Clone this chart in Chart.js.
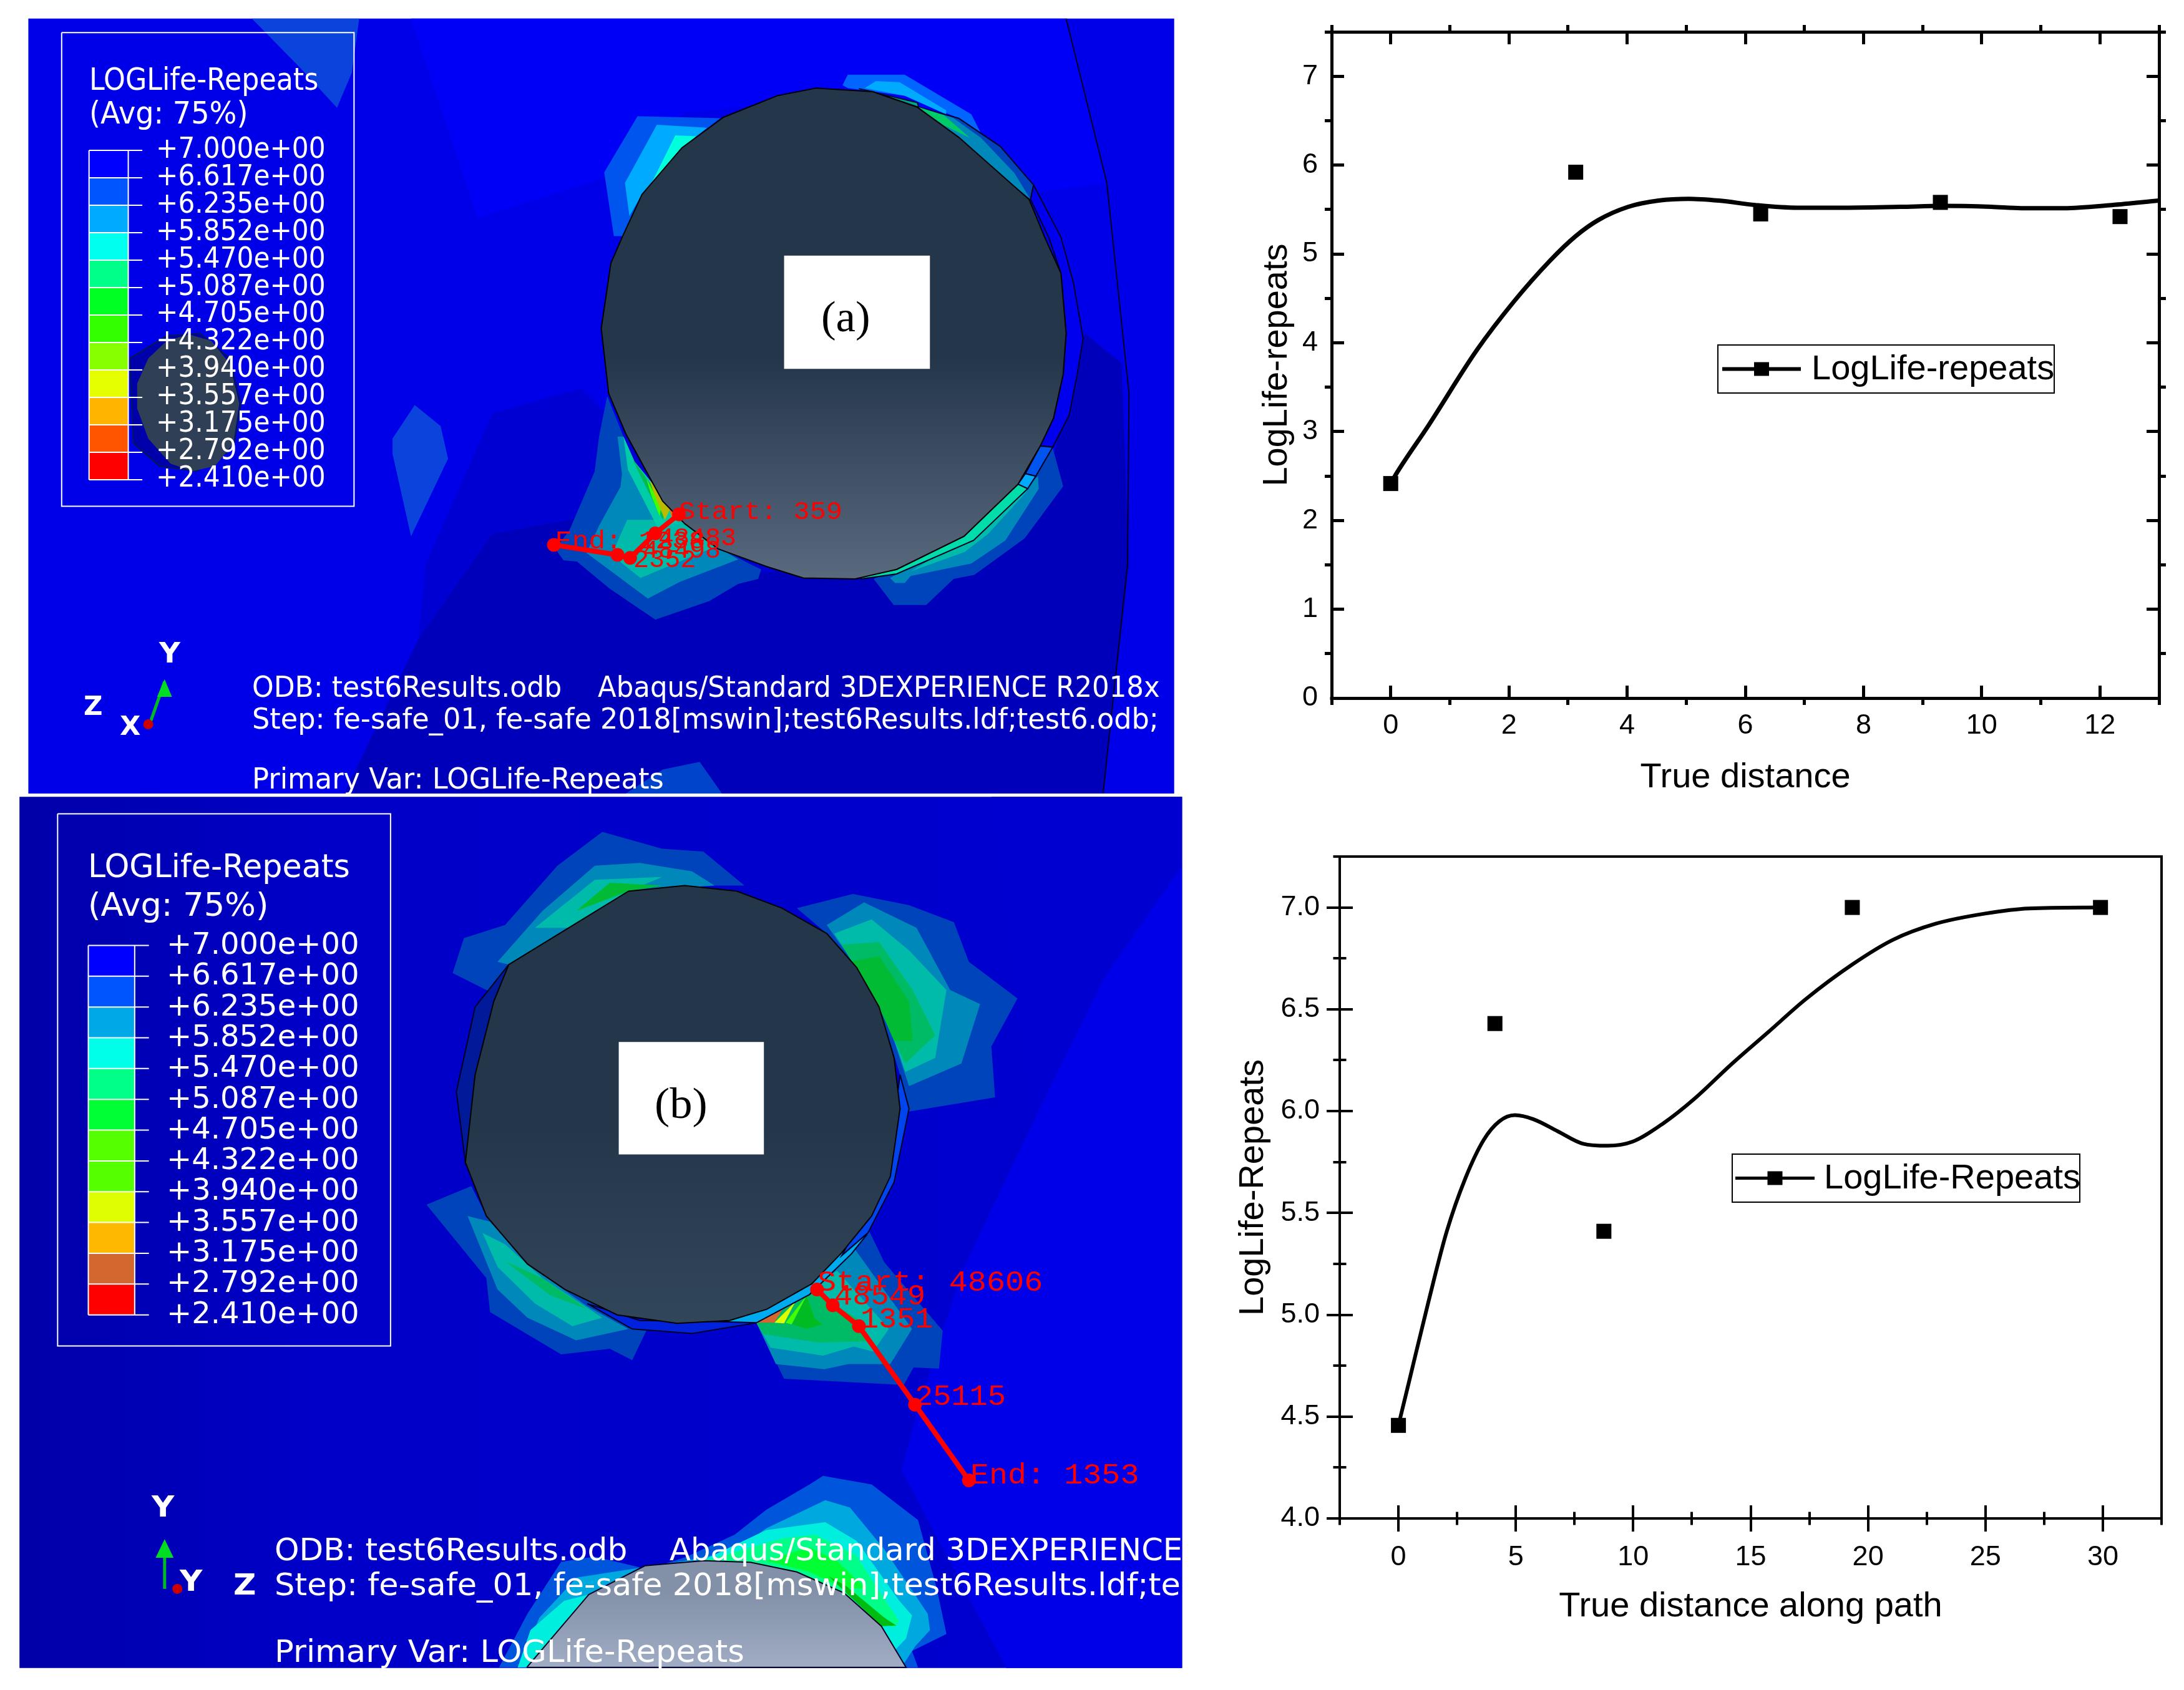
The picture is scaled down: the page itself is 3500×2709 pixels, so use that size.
<!DOCTYPE html>
<html>
<head>
<meta charset="utf-8">
<title>LOGLife-Repeats</title>
<script src="https://cdn.jsdelivr.net/npm/chart.js@4/dist/chart.umd.min.js"></script>
<style>
html, body { margin: 0; padding: 0; background: #fff; }
#page { position: relative; width: 3500px; height: 2709px; overflow: hidden; background: #fff; }
#page canvas { position: absolute; }
.txt { position: absolute; white-space: nowrap; transform-origin: left center; line-height: 1; }
.clip { position: absolute; overflow: hidden; }
</style>
</head>
<body>
<div id="page"></div>
<script>
// line plots
const pathPointsAx = [0, 3.13, 6.26, 9.3, 12.34];
const pathPointsAy = [2.415, 5.92, 5.45, 5.58, 5.42];
const curveAx = [0, 0.08, 0.64, 1.46, 2.08, 2.69, 3.13, 3.51, 4.02, 4.53, 5.04, 5.55, 6.17, 6.88, 7.6, 8.62, 9.34, 10.16, 10.67, 11.39, 12.2, 12.99];
const curveAy = [2.415, 2.51, 3.07, 3.92, 4.46, 4.92, 5.2, 5.38, 5.53, 5.6, 5.62, 5.60, 5.55, 5.52, 5.52, 5.53, 5.54, 5.53, 5.515, 5.515, 5.55, 5.60];

const pathPointsBx = [0, 4.11, 8.75, 19.33, 29.9];
const pathPointsBy = [4.457, 6.43, 5.41, 7.0, 7.0];
const curveBx = [0, 0.47, 1.27, 2.06, 2.85, 3.64, 4.3, 4.96, 5.75, 6.8, 7.86, 8.91, 9.97, 11.28, 12.6, 14.18, 15.77, 17.35, 19.33, 21.04, 22.88, 24.99, 26.84, 29.9];
const curveBy = [4.457, 4.68, 5.06, 5.41, 5.67, 5.86, 5.95, 5.98, 5.96, 5.90, 5.84, 5.83, 5.85, 5.94, 6.06, 6.23, 6.39, 6.55, 6.72, 6.84, 6.92, 6.97, 6.995, 7.0];

// contour legend
const contourLevels = ['+7.000e+00', '+6.617e+00', '+6.235e+00', '+5.852e+00', '+5.470e+00', '+5.087e+00', '+4.705e+00', '+4.322e+00', '+3.940e+00', '+3.557e+00', '+3.175e+00', '+2.792e+00', '+2.410e+00'];
const bandColorsA = ['#0000ff', '#0055ff', '#00aaff', '#00ffee', '#00ff88', '#00ff22', '#33ff00', '#88ff00', '#e5ff00', '#ffb400', '#ff5500', '#ff0000'];
const bandColorsB = ['#0000ff', '#0055ff', '#00a8e8', '#00ffe8', '#00ff88', '#00ff33', '#55ff00', '#55ff00', '#ddff00', '#ffb800', '#d2682f', '#ff0000'];

// fe-safe path node ids
const pathLabelsA = ['Start: 359', '48483', '48498', '2352', 'End: 1238'];
const pathLabelsB = ['Start: 48606', '48549', '1351', '25115', 'End: 1353'];

// panel (a) outlines, in crop coordinates 0..1568
const bgRect = [[13, 12], [1561, 12], [1561, 1558], [13, 1558]];
const brightA = [[530, 12], [1415, 12], [1470, 340], [1370, 360], [1180, 160], [900, 200], [790, 330], [620, 410]];
const darkA = [[550, 1100], [640, 800], [760, 750], [820, 840], [1010, 1105], [1395, 900], [1440, 640], [1490, 700], [1500, 1100], [1465, 1558], [440, 1558], [540, 1250]];
const darkerA = [[540, 1250], [640, 1040], [790, 1000], [1010, 1120], [1395, 900], [1440, 640], [1490, 700], [1500, 1100], [1465, 1558], [440, 1558]];
const wedgeA = [[315, 12], [460, 12], [450, 120], [430, 190], [380, 110]];
const blobA = [[505, 850], [535, 783], [570, 825], [580, 890], [530, 1045], [505, 880]];
const footA = [[820, 1558], [870, 1510], [920, 1495], [950, 1558]];
const holeRingA = [[150, 690], [200, 645], [245, 640], [285, 690], [300, 780], [290, 870], [240, 915], [190, 905], [155, 860]];
const holeA = [[160, 740], [175, 690], [200, 655], [230, 642], [260, 655], [285, 700], [298, 780], [290, 860], [265, 905], [235, 915], [205, 900], [175, 850], [160, 790]];
const topLeft1A = [[836, 207], [948, 211], [896, 270], [842, 363], [816, 446], [804, 446], [791, 319]];
const topLeft2A = [[862, 224], [930, 230], [896, 270], [842, 363], [825, 406], [819, 340]];
const topLeft3A = [[887, 245], [915, 247], [896, 270], [855, 340]];
const topRight1A = [[1113, 145], [1120, 124], [1197, 124], [1287, 203], [1300, 241], [1270, 211], [1197, 166], [1120, 151]];
const topRight2A = [[1143, 151], [1158, 137], [1190, 139], [1253, 195], [1253, 203], [1197, 166]];
const bandDarkA = [[1216, 189], [1270, 211], [1326, 267], [1371, 344], [1367, 373]];
const bandMidA = [[1216, 189], [1262, 210], [1300, 250], [1345, 320], [1367, 373]];
const bandGreenA = [[1216, 189], [1250, 205], [1285, 250], [1250, 225]];
const arcGreenA = [[1135, 152], [1214, 180], [1216, 189], [1154, 158]];
const lowerOuterA = [[1155, 1130], [1182, 1182], [1226, 1182], [1263, 1130], [1291, 1122], [1359, 1049], [1411, 945], [1397, 869], [1290, 1040]];
const lowerMidA = [[1177, 1128], [1184, 1138], [1197, 1138], [1205, 1124], [1287, 1099], [1333, 1053], [1378, 950], [1377, 925], [1290, 1040]];
const lowerTealA = [[1205, 1115], [1278, 1076], [1309, 1041], [1363, 954], [1290, 1040]];
const rimA = [[1371, 344], [1408, 448], [1425, 540], [1438, 650], [1430, 722], [1419, 804], [1397, 867], [1380, 865], [1398, 809], [1411, 722], [1415, 640], [1408, 520], [1392, 450], [1367, 373]];
const rimBlueA = [[1380, 865], [1397, 867], [1374, 925], [1360, 920]];
const rimCyanA = [[1360, 920], [1374, 925], [1363, 950], [1350, 941]];
const rimGreenA = [[1350, 941], [1363, 950], [1290, 1053], [1186, 1120], [1138, 1130], [1138, 1126], [1186, 1111], [1277, 1045]];
const arcA = [[1415, 12], [1470, 340], [1500, 760], [1498, 1100], [1465, 1558]];
const shaftA = [[1077, 151], [1154, 158], [1214, 189], [1270, 249], [1365, 373], [1386, 448], [1408, 520], [1415, 640], [1411, 722], [1398, 809], [1380, 865], [1350, 941], [1277, 1045], [1186, 1111], [1130, 1130], [1060, 1128], [1010, 1105], [945, 1070], [900, 1020], [870, 975], [820, 840], [797, 760], [787, 630], [800, 500], [816, 446], [842, 363], [896, 270], [952, 209], [1025, 166]];
const patchOuterA = [[795, 765], [784, 846], [778, 916], [744, 1033], [725, 1070], [736, 1093], [754, 1095], [798, 1149], [860, 1211], [933, 1174], [972, 1140], [999, 1130], [1003, 1111], [989, 1101], [941, 1064], [896, 1012], [832, 896], [817, 846]];
const patchMidA = [[809, 846], [815, 921], [813, 946], [784, 1024], [767, 1078], [850, 1169], [893, 1136], [972, 1091], [941, 1064], [896, 1012], [832, 896], [817, 846]];
const patchTealA = [[822, 1012], [801, 1082], [840, 1128], [893, 1095], [941, 1066], [898, 1012]];
const stripTealA = [[817, 846], [832, 896], [885, 991], [896, 1012], [865, 1033], [823, 912]];
const stripGreenA = [[829, 890], [875, 985], [870, 1012], [840, 925]];
const stripLimeA = [[848, 930], [868, 985], [866, 1005], [855, 965]];
const stripYellowA = [[852, 933], [882, 985], [873, 1012], [860, 966]];
const stripOrangeA = [[879, 987], [887, 995], [882, 1008]];
const boxA = [[1034, 485], [1231, 485], [1231, 711], [1034, 711]];
const legendBoxA = [[58, 40], [453, 40], [453, 985], [58, 985], [58, 40]];
const pathA = [[892, 1001], [860, 1039], [826, 1088], [809, 1082], [723, 1062]];
const arrowA = [[178, 1415], [197, 1335]];
const arrowHeadA = [[197, 1330], [207, 1365], [187, 1365]];
const originA = [[175, 1420]];

// panel (b) outlines, in crop coordinates 0..1568
const bgRectB = [[1, 8], [1555, 8], [1555, 1550], [1, 1550]];
const brightRightB = [[1555, 130], [1450, 330], [1350, 600], [1260, 850], [1200, 1100], [1180, 1200], [1320, 1550], [1555, 1550]];
const midRightB = [[1300, 8], [1555, 8], [1555, 130], [1450, 330], [1360, 600]];
const top1B = [[580, 320], [595, 258], [650, 235], [720, 130], [780, 70], [860, 100], [915, 105], [970, 165], [890, 165], [815, 175], [735, 240], [655, 305], [640, 360]];
const top2B = [[640, 300], [700, 210], [770, 130], [830, 125], [900, 140], [930, 165], [815, 175], [735, 240], [655, 305]];
const top3B = [[690, 240], [770, 155], [860, 150], [815, 175], [735, 240]];
const top4B = [[745, 210], [790, 160], [860, 165], [815, 175]];
const right1B = [[1040, 205], [1115, 180], [1190, 200], [1250, 230], [1270, 300], [1335, 365], [1300, 450], [1305, 540], [1190, 565], [1178, 500], [1150, 380], [1120, 310], [1080, 250]];
const right2B = [[1080, 235], [1130, 195], [1200, 240], [1245, 350], [1285, 375], [1260, 480], [1190, 520], [1165, 420], [1120, 310]];
const right3B = [[1090, 250], [1140, 225], [1190, 280], [1240, 350], [1225, 470], [1185, 495], [1160, 400], [1120, 310]];
const right4B = [[1100, 270], [1150, 265], [1195, 350], [1225, 430], [1185, 480], [1150, 380]];
const right5B = [[1110, 300], [1150, 290], [1190, 370], [1195, 440], [1170, 440], [1150, 380]];
const low1B = [[545, 730], [605, 697], [625, 750], [680, 835], [730, 880], [800, 925], [840, 950], [820, 1005], [790, 985], [725, 995], [630, 920], [625, 860]];
const low2B = [[600, 750], [630, 760], [680, 835], [760, 910], [815, 950], [745, 970], [680, 930], [640, 880]];
const low3B = [[620, 780], [650, 800], [700, 860], [780, 930], [740, 945], [690, 905], [640, 840]];
const low4B = [[650, 830], [700, 860], [760, 915], [710, 890]];
const spot1B = [[1127, 750], [1157, 832], [1235, 953], [1230, 1020], [1196, 1018], [1183, 1049], [1023, 1038], [986, 939], [1060, 870]];
const spot2B = [[1113, 800], [1194, 950], [1165, 1012], [1109, 1012], [1077, 1021], [1012, 1012], [986, 939], [1060, 880]];
const spot3B = [[1094, 847], [1163, 950], [1142, 990], [1116, 981], [1075, 997], [1005, 983], [986, 939]];
const spot4B = [[1060, 883], [1120, 931], [1134, 972], [1068, 974], [995, 959], [986, 939]];
const spot5B = [[1053, 891], [1064, 931], [1074, 942], [1053, 950], [1034, 942]];
const spotLimeB = [[1053, 891], [1033, 942], [1025, 939]];
const spotYellowB = [[1038, 902], [1023, 940], [1010, 939]];
const spotBrownB = [[1023, 911], [1010, 939], [986, 939]];
const edgeStripB = [[934, 937], [999, 911], [1057, 865], [1116, 784], [1133, 784], [1113, 817], [1057, 889], [986, 939], [934, 950]];
const edgeLowB = [[760, 905], [830, 935], [934, 937], [986, 939], [900, 958], [820, 950]];
const edgeRightB = [[1178, 500], [1190, 560], [1170, 690], [1135, 780], [1100, 820], [1160, 680]];
const edgeLeftB = [[655, 305], [610, 380], [585, 530], [597, 655], [620, 450]];
const shaftB = [[815, 175], [890, 165], [960, 175], [1020, 205], [1080, 250], [1120, 310], [1150, 380], [1170, 470], [1178, 560], [1165, 680], [1140, 750], [1100, 815], [1060, 870], [1000, 915], [950, 935], [880, 940], [800, 925], [730, 880], [680, 835], [625, 750], [597, 655], [610, 500], [635, 370], [655, 305], [735, 240]];
const nextOuterB = [[642, 1549], [680, 1454], [725, 1362], [770, 1353], [840, 1375], [891, 1354], [957, 1314], [999, 1270], [1057, 1225], [1075, 1210], [1140, 1225], [1202, 1288], [1227, 1409], [1240, 1490], [1194, 1520], [1202, 1549]];
const nextMidB = [[667, 1549], [696, 1461], [746, 1390], [891, 1360], [957, 1343], [999, 1303], [1078, 1253], [1111, 1266], [1157, 1340], [1215, 1454], [1218, 1483], [1198, 1512], [1180, 1549]];
const nextCyanB = [[667, 1549], [684, 1483], [729, 1431], [762, 1420], [905, 1365], [999, 1306], [1078, 1292], [1120, 1325], [1177, 1431], [1194, 1457], [1186, 1498], [1170, 1520]];
const nextMintB = [[916, 1360], [1020, 1321], [1065, 1314], [1119, 1350], [1177, 1468], [1169, 1479], [1103, 1417], [1040, 1380]];
const nextGreenB = [[999, 1360], [1057, 1336], [1094, 1361], [1132, 1409], [1103, 1409], [1057, 1380]];
const nextDeepB = [[1082, 1387], [1107, 1406], [1157, 1461], [1173, 1475], [1153, 1476]];
const nextShaftB = [[679, 1549], [762, 1420], [837, 1369], [916, 1360], [978, 1363], [1040, 1380], [1103, 1417], [1153, 1476], [1186, 1549]];
const boxB = [[802, 442], [996, 442], [996, 641], [802, 641]];
const legendBoxB = [[52, 38], [497, 38], [497, 980], [52, 980], [52, 38]];
const pathB = [[1067, 880], [1088, 908], [1123, 945], [1198, 1084], [1270, 1218]];
const arrowB = [[195, 1410], [195, 1335]];
const arrowHeadB = [[195, 1322], [207, 1355], [183, 1355]];
const originB = [[212, 1410]];

const page = document.getElementById('page');
const sansFont = '"Liberation Sans", Arial, sans-serif';
const fieldFont = '"DejaVu Sans", sans-serif';
const monoFont = '"Liberation Mono", monospace';
const serifFont = '"Liberation Serif", serif';

function addCanvas(x, y, w, h) {
    const c = document.createElement('canvas');
    c.width = w;
    c.height = h;
    c.style.cssText = `left:${x}px;top:${y}px;width:${w}px;height:${h}px`;
    page.appendChild(c);
    return c;
}

// text fitted to a measured width, x/y are page pixels (y = middle of the text)
function addText(str, x, y, width, size, color, family, weight, parent) {
    const el = document.createElement('div');
    el.className = 'txt';
    el.textContent = str;
    el.style.cssText = `left:${x}px;top:${y - size / 2}px;font:${weight || 'normal'} ${size}px ${family};color:${color}`;
    (parent || page).appendChild(el);
    if (width) {
        el.style.transform = `scaleX(${width / el.offsetWidth})`;
    }
    return el;
}

// ---- panels ----

function toPoints(list) {
    return list.map(p => ({ x: p[0], y: p[1] }));
}

function area(points, color, border) {
    const closed = points.concat([points[0]]);
    return {
        data: toPoints(closed),
        showLine: true,
        fill: 'shape',
        backgroundColor: color,
        borderColor: border || 'rgba(0,0,0,0)',
        borderWidth: border ? 2 : 0,
        pointRadius: 0,
        tension: 0
    };
}

function stroke(points, color, width, radius) {
    return {
        data: toPoints(points),
        showLine: true,
        fill: false,
        borderColor: color,
        backgroundColor: color,
        borderWidth: width,
        pointRadius: radius || 0,
        pointBorderWidth: 0,
        tension: 0
    };
}

// vertical shading, y0 and y1 in crop coordinates
function shade(top, bottom, y0, y1) {
    return function(ctx) {
        const chart = ctx.chart;
        const k = chart.height / 1568;
        const g = chart.ctx.createLinearGradient(0, y0 * k, 0, y1 * k);
        g.addColorStop(0, top);
        g.addColorStop(0.55, top);
        g.addColorStop(1, bottom);
        return g;
    };
}

// left to right shading over the whole panel
function sideShade(left, middle, right) {
    return function(ctx) {
        const chart = ctx.chart;
        const g = chart.ctx.createLinearGradient(0, 0, chart.width, 0);
        g.addColorStop(0, left);
        g.addColorStop(0.25, middle);
        g.addColorStop(1, right);
        return g;
    };
}

// colour bar cells and their little tick lines, from the level list
function colourBar(colors, left, right, tickEnd, top, bottom) {
    const out = [];
    const step = (bottom - top) / colors.length;
    colors.forEach((color, i) => {
        const a = top + step * i;
        const b = a + step;
        out.push(area([[left, a], [right, a], [right, b], [left, b]], color));
    });
    for (let i = 0; i <= colors.length; i++) {
        const y = top + step * i;
        out.push(stroke([[left, y], [tickEnd, y]], '#ffffff', 2));
    }
    out.push(stroke([[left, top], [left, bottom]], '#ffffff', 2));
    out.push(stroke([[right, top], [right, bottom]], '#ffffff', 2));
    return out;
}

function drawPanel(x, y, w, h, layers) {
    layers.forEach((d, i) => { d.order = layers.length - i; });
    new Chart(addCanvas(x, y, w, h), {
        type: 'scatter',
        data: { datasets: layers },
        options: {
            responsive: false,
            animation: false,
            layout: { padding: 0, autoPadding: false },
            plugins: { legend: { display: false }, tooltip: { enabled: false } },
            scales: {
                x: { type: 'linear', display: false, min: 0, max: 1568 },
                y: { type: 'linear', display: false, min: 0, max: 1568, reverse: true }
            }
        }
    });
}

const outer = '#0044bb', mid = '#0088bb', teal = '#00bbaa', green = '#00bb66';

drawPanel(30, 20, 1860, 1260, [
    area(bgRect, '#0000e8'),
    area(brightA, '#0000f6'),
    area(darkA, '#0000d2'),
    area(darkerA, '#0000bb'),
    area(wedgeA, '#0a44dd'),
    area(blobA, '#0a44dd'),
    area(footA, '#0044cc'),
    area(holeRingA, '#0000aa', '#001a55'),
    area(holeA, '#2f3f55'),
    area(topLeft1A, '#0055ee'),
    area(topLeft2A, '#00aaff'),
    area(topLeft3A, '#00ffdd'),
    area(topRight1A, '#0066ff'),
    area(topRight2A, '#00aaff'),
    area(arcGreenA, '#00aa88', '#001133'),
    area(bandDarkA, outer, '#000022'),
    area(bandMidA, mid),
    area(bandGreenA, '#00cc66'),
    area(lowerOuterA, outer),
    area(lowerMidA, mid),
    area(lowerTealA, teal),
    area(rimA, '#0000ee', '#000022'),
    area(rimBlueA, '#0055ee', '#000022'),
    area(rimCyanA, '#00aaff', '#000022'),
    area(rimGreenA, '#00ddaa', '#000022'),
    stroke(arcA, '#000022', 2),
    area(patchOuterA, outer),
    area(patchMidA, mid),
    area(patchTealA, teal),
    area(stripTealA, '#00ccaa'),
    area(stripGreenA, '#00bb55'),
    area(stripLimeA, '#44ff00'),
    area(stripYellowA, '#bbbb00'),
    area(stripOrangeA, '#ff6600'),
    area(shaftA, shade('#24364a', '#5a6a7e', 150, 1130), '#000000'),
    area(boxA, '#ffffff'),
    stroke(legendBoxA, '#ffffff', 2),
    ...colourBar(bandColorsA, 95, 148, 167, 275, 932),
    stroke(pathA, '#ff0000', 8, 11),
    stroke(arrowA, '#00bb22', 5),
    area(arrowHeadA, '#00dd22'),
    stroke(originA, '#cc0000', 0, 8)
]);

drawPanel(30, 1270, 1880, 1420, [
    area(bgRectB, sideShade('#0000a8', '#0000c8', '#0000d0')),
    area(midRightB, '#0000d0'),
    area(brightRightB, '#0000e8'),
    area(top1B, outer),
    area(top2B, mid),
    area(top3B, teal),
    area(top4B, '#00bb33'),
    area(right1B, outer),
    area(right2B, mid),
    area(right3B, teal),
    area(right4B, green),
    area(right5B, '#00bb33'),
    area(low1B, outer),
    area(low2B, mid),
    area(low3B, teal),
    area(low4B, green),
    area(spot1B, outer),
    area(spot2B, mid),
    area(spot3B, teal),
    area(spot4B, green),
    area(spot5B, '#00bb22'),
    area(spotLimeB, '#44ff00'),
    area(spotYellowB, '#ddff00'),
    area(spotBrownB, '#d2682f'),
    area(edgeStripB, '#00aaee', '#000022'),
    area(edgeLowB, '#0022dd', '#000022'),
    area(edgeRightB, '#0044ee', '#000022'),
    area(edgeLeftB, '#001a99', '#000022'),
    area(shaftB, shade('#24364a', '#32465a', 165, 940), '#000000'),
    area(nextOuterB, '#0055dd'),
    area(nextMidB, '#00a8e0'),
    area(nextCyanB, '#00eedd'),
    area(nextMintB, '#00ff88'),
    area(nextGreenB, '#00ff33'),
    area(nextDeepB, '#00bb11'),
    area(nextShaftB, shade('#8290a8', '#a0adc4', 1250, 1550), '#000022'),
    area(boxB, '#ffffff'),
    stroke(legendBoxB, '#ffffff', 2),
    ...colourBar(bandColorsB, 93, 155, 174, 271, 925),
    stroke(pathB, '#ff0000', 8, 11),
    stroke(arrowB, '#00bb22', 5),
    area(arrowHeadB, '#00dd22'),
    stroke(originB, '#cc0000', 0, 8)
]);

// panel (a) text
addText('LOGLife-Repeats', 143, 123, 367, 50, '#fff', fieldFont);
addText('(Avg: 75%)', 143, 177, 255, 50, '#fff', fieldFont);
contourLevels.forEach((s, i) => {
    addText(s, 250, 233 + i * 43.9, 272, 46, '#fff', fieldFont);
});
addText('Y', 255, 1043, 34, 44, '#fff', fieldFont, 'bold');
addText('Z', 134, 1128, 30, 42, '#fff', fieldFont, 'bold');
addText('X', 192, 1160, 33, 42, '#fff', fieldFont, 'bold');
addText('ODB: test6Results.odb', 404, 1097, 496, 46, '#fff', fieldFont);
addText('Abaqus/Standard 3DEXPERIENCE R2018x', 958, 1097, 901, 46, '#fff', fieldFont);
addText('Step: fe-safe_01, fe-safe 2018[mswin];test6Results.ldf;test6.odb;', 404, 1148, 1453, 46, '#fff', fieldFont);
addText('Primary Var: LOGLife-Repeats', 404, 1244, 660, 46, '#fff', fieldFont);
addText('(a)', 1316, 503, 79, 70, '#000', serifFont);
addText(pathLabelsA[0], 1088, 818, 262, 41, '#f00', monoFont);
addText(pathLabelsA[1], 1055, 860, 125, 41, '#f00', monoFont);
addText(pathLabelsA[2], 1030, 880, 125, 41, '#f00', monoFont);
addText(pathLabelsA[3], 1015, 895, 100, 41, '#f00', monoFont);
addText(pathLabelsA[4], 890, 865, 240, 41, '#f00', monoFont);

// panel (b) text
addText('LOGLife-Repeats', 141, 1384, 420, 52, '#fff', fieldFont);
addText('(Avg: 75%)', 141, 1446, 290, 52, '#fff', fieldFont);
contourLevels.forEach((s, i) => {
    addText(s, 267, 1508 + i * 49.3, 308, 48, '#fff', fieldFont);
});
addText('Y', 243, 2411, 36, 46, '#fff', fieldFont, 'bold');
addText('Z', 374, 2536, 36, 46, '#fff', fieldFont, 'bold');
addText('Y', 288, 2530, 36, 46, '#fff', fieldFont, 'bold');
addText('ODB: test6Results.odb', 440, 2480, 565, 50, '#fff', fieldFont);
// these run off the edges of the panel
const clipB = document.createElement('div');
clipB.className = 'clip';
clipB.style.cssText = 'left:0;top:2450px;width:1895px;height:224px';
page.appendChild(clipB);
addText('Abaqus/Standard 3DEXPERIENCE', 1073, 30, 822, 50, '#fff', fieldFont, null, clipB);
addText('Step: fe-safe_01, fe-safe 2018[mswin];test6Results.ldf;te', 440, 86, 1452, 50, '#fff', fieldFont, null, clipB);
addText('Primary Var: LOGLife-Repeats', 440, 193, 753, 50, '#fff', fieldFont, null, clipB);
addText('(b)', 1049, 1764, 85, 70, '#000', serifFont);
addText(pathLabelsB[0], 1310, 2054, 361, 46, '#f00', monoFont);
addText(pathLabelsB[1], 1337, 2076, 146, 46, '#f00', monoFont);
addText(pathLabelsB[2], 1379, 2113, 116, 46, '#f00', monoFont);
addText(pathLabelsB[3], 1466, 2237, 146, 46, '#f00', monoFont);
addText(pathLabelsB[4], 1555, 2363, 270, 46, '#f00', monoFont);

// ---- line plots ----

// Origin style axes: ticks are drawn here because major and minor differ
const axisFrame = {
    id: 'axisFrame',
    afterDraw(chart, args, opts) {
        const { ctx, chartArea: a, scales } = chart;
        const w = opts.lineWidth;
        ctx.save();
        ctx.fillStyle = '#000';
        const hBar = (x0, x1, y) => ctx.fillRect(x0, Math.round(y - w / 2), x1 - x0, w);
        const vBar = (y0, y1, x) => ctx.fillRect(Math.round(x - w / 2), y0, w, y1 - y0);

        hBar(a.left - w / 2, a.right + w / 2, a.bottom);
        hBar(a.left - w / 2, a.right + w / 2, a.top);
        vBar(a.top - w / 2, a.bottom + w / 2, a.left);
        vBar(a.top - w / 2, a.bottom + w / 2, a.right);

        scales.x.ticks.forEach(t => {
            const x = scales.x.getPixelForValue(t.value);
            const major = t.label !== '';
            if (opts.inward) {
                if (major) {
                    vBar(a.bottom - 20, a.bottom, x);
                    vBar(a.top, a.top + 20, x);
                } else {
                    vBar(a.bottom, a.bottom + 11, x);
                    vBar(a.top - 11, a.top, x);
                }
            } else {
                const len = major ? 21 : 10.5;
                vBar(a.bottom - len, a.bottom + len, x);
            }
        });
        scales.y.ticks.forEach(t => {
            const y = scales.y.getPixelForValue(t.value);
            const major = t.label !== '';
            if (opts.inward) {
                if (major) {
                    hBar(a.left, a.left + 20, y);
                    hBar(a.right - 20, a.right, y);
                } else {
                    hBar(a.left - 11, a.left, y);
                    hBar(a.right, a.right + 11, y);
                }
            } else {
                const len = major ? 21 : 10.5;
                hBar(a.left - len, a.left + len, y);
            }
        });
        ctx.restore();
    }
};

const boxedLegend = {
    id: 'boxedLegend',
    afterDraw(chart, args, opts) {
        const ctx = chart.ctx;
        ctx.save();
        ctx.strokeStyle = '#000';
        ctx.lineWidth = 2;
        ctx.strokeRect(opts.left, opts.top, opts.right - opts.left, opts.bottom - opts.top);
        const y = (opts.top + opts.bottom) / 2;
        ctx.lineWidth = opts.lineWidth;
        ctx.beginPath();
        ctx.moveTo(opts.lineLeft, y);
        ctx.lineTo(opts.lineRight, y);
        ctx.stroke();
        ctx.fillStyle = '#000';
        const mid = (opts.lineLeft + opts.lineRight) / 2;
        ctx.fillRect(mid - 12, y - 11, 24, 22);
        ctx.font = '56px ' + sansFont;
        ctx.textBaseline = 'middle';
        ctx.fillText(chart.data.datasets[0].label, opts.textLeft, y + 1);
        ctx.restore();
    }
};

function linePlot(cfg) {
    new Chart(addCanvas(cfg.x, cfg.y, cfg.w, cfg.h), {
        type: 'scatter',
        data: {
            datasets: [{
                label: cfg.label,
                data: cfg.curveX.map((v, i) => ({ x: v, y: cfg.curveY[i] })),
                showLine: true,
                borderColor: '#000',
                borderWidth: cfg.curveWidth,
                pointRadius: 0,
                cubicInterpolationMode: 'monotone'
            }, {
                label: cfg.label + ' points',
                data: cfg.pointX.map((v, i) => ({ x: v, y: cfg.pointY[i] })),
                showLine: false,
                pointStyle: 'rect',
                pointRadius: 17,
                pointBorderWidth: 0,
                backgroundColor: '#000'
            }]
        },
        options: {
            responsive: false,
            animation: false,
            layout: { padding: { top: cfg.top, right: cfg.right, left: 0, bottom: 0 }, autoPadding: false },
            plugins: {
                legend: { display: false },
                tooltip: { enabled: false },
                axisFrame: { lineWidth: cfg.lineWidth, inward: cfg.inward },
                boxedLegend: cfg.legend
            },
            scales: {
                x: {
                    type: 'linear',
                    min: cfg.xMin,
                    max: cfg.xMax,
                    afterFit: s => { s.height = cfg.xBand; },
                    grid: { display: false, drawTicks: false },
                    border: { display: false },
                    ticks: {
                        stepSize: cfg.xStep,
                        autoSkip: false,
                        maxRotation: 0,
                        padding: cfg.xPad,
                        color: '#000',
                        font: { family: sansFont, size: 45 },
                        callback: v => cfg.xLabel(v)
                    },
                    title: {
                        display: true,
                        text: cfg.xTitle,
                        color: '#000',
                        font: { family: sansFont, size: 56 },
                        padding: { top: 0, bottom: cfg.xTitlePad }
                    }
                },
                y: {
                    type: 'linear',
                    min: cfg.yMin,
                    max: cfg.yMax,
                    afterFit: s => { s.width = cfg.yBand; },
                    grid: { display: false, drawTicks: false },
                    border: { display: false },
                    ticks: {
                        stepSize: cfg.yStep,
                        autoSkip: false,
                        padding: cfg.yPad,
                        color: '#000',
                        font: { family: sansFont, size: 45 },
                        callback: v => cfg.yLabel(v)
                    },
                    title: {
                        display: true,
                        text: cfg.yTitle,
                        color: '#000',
                        font: { family: sansFont, size: 56 },
                        padding: { top: cfg.yTitlePad, bottom: 0 }
                    }
                }
            }
        },
        plugins: [axisFrame, boxedLegend]
    });
}

linePlot({
    x: 1980, y: 0, w: 1520, h: 1300,
    top: 51, right: 40, xBand: 181, yBand: 154,
    label: 'LogLife-repeats',
    curveX: curveAx, curveY: curveAy, pointX: pathPointsAx, pointY: pathPointsAy,
    lineWidth: 5, curveWidth: 7, inward: true,
    xMin: -1, xMax: 13, xStep: 1, yMin: 0, yMax: 7.5, yStep: 0.5,
    xLabel: v => (v % 2 === 0 ? String(v) : ''),
    yLabel: v => (Number.isInteger(v) ? String(v) : ''),
    xTitle: 'True distance', yTitle: 'LogLife-repeats',
    xPad: 18, yPad: 22, xTitlePad: 20, yTitlePad: 33,
    legend: { left: 773, top: 553, right: 1312, bottom: 630, lineLeft: 780, lineRight: 906, textLeft: 923, lineWidth: 6 }
});

// canvas starts above the plot: the top label margin pushes a small top padding down
linePlot({
    x: 1940, y: 1280, w: 1560, h: 1429,
    top: 93, right: 34, xBand: 275, yBand: 207,
    label: 'LogLife-Repeats',
    curveX: curveBx, curveY: curveBy, pointX: pathPointsBx, pointY: pathPointsBy,
    lineWidth: 4, curveWidth: 6, inward: false,
    xMin: -2.5, xMax: 32.5, xStep: 2.5, yMin: 4, yMax: 7.25, yStep: 0.25,
    xLabel: v => (v % 5 === 0 ? String(v) : ''),
    yLabel: v => (v % 0.5 === 0 ? v.toFixed(1) : ''),
    xTitle: 'True distance along path', yTitle: 'LogLife-Repeats',
    xPad: 36, yPad: 32, xTitlePad: 100, yTitlePad: 35,
    legend: { left: 836, top: 570, right: 1393, bottom: 647, lineLeft: 841, lineRight: 968, textLeft: 983, lineWidth: 5 }
});
</script>
</body>
</html>
